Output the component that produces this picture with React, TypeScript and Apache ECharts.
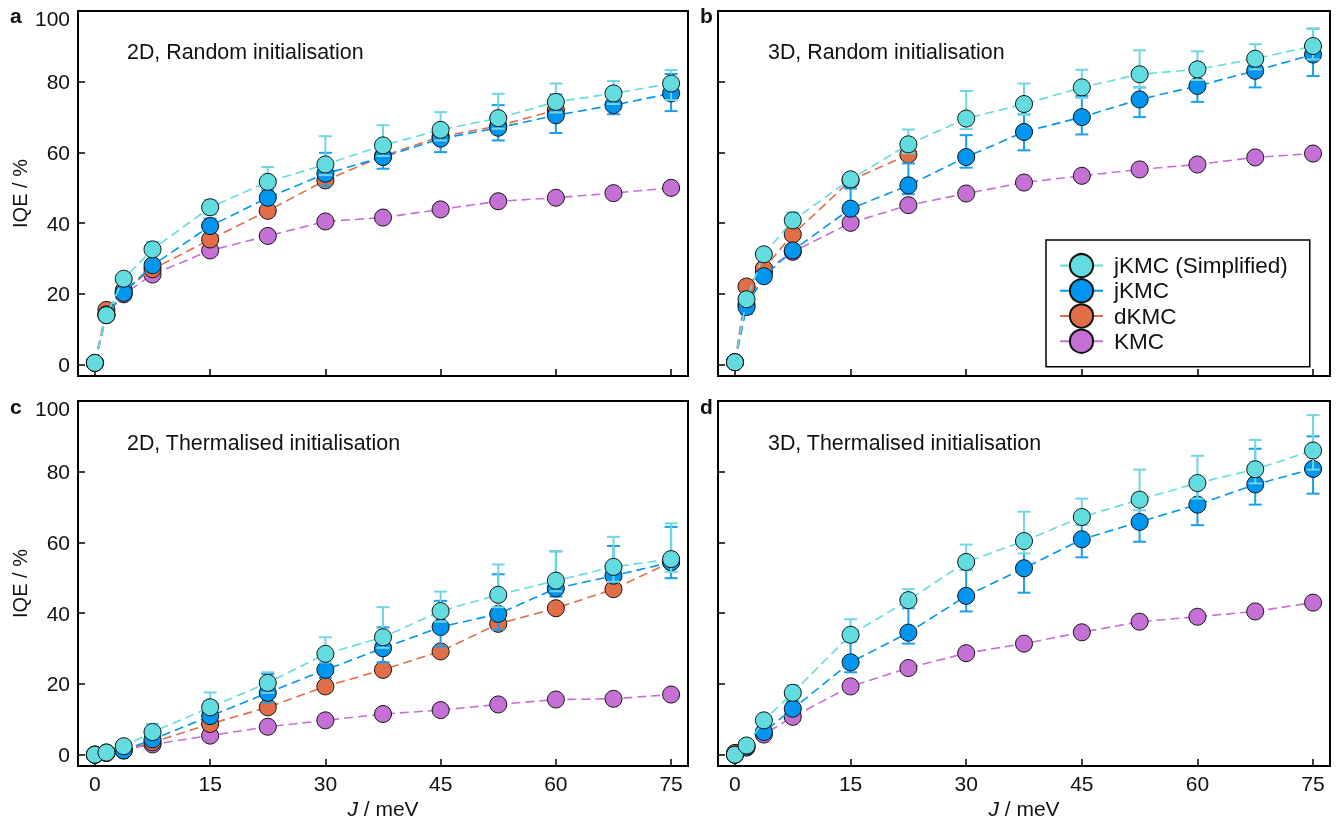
import React, { useEffect, useRef } from 'react';
import * as echarts from 'echarts';

// x values (J / meV)
const J = [0, 1.5, 3.75, 7.5, 15, 22.5, 30, 37.5, 45, 52.5, 60, 67.5, 75];
const xTicks = [0, 15, 30, 45, 60, 75];
const yTicks = [0, 20, 40, 60, 80, 100];
const names = ['jKMC (Simplified)', 'jKMC', 'dKMC', 'KMC'];
const panelTitles = ['2D, Random initialisation', '3D, Random initialisation', '2D, Thermalised initialisation', '3D, Thermalised initialisation'];
const panelLetters = ['a', 'b', 'c', 'd'];

// Panel a: 2D random
const cyanA = [0.5, 14, 24.3, 32.6, 44.5, 51.7, 56.6, 62, 66.4, 69.7, 74.3, 76.7, 79.5];
const cyanUpA = [0.3, 0.5, 1, 2.1, 2, 4.2, 8, 5.7, 5, 6.9, 5.2, 3.5, 3.8];
const cyanDnA = [0.3, 0.5, 1, 1, 2, 2, 3, 3, 3, 3, 3, 3, 4.7];
const blueA = [0.5, 14.2, 20.3, 28.1, 39.2, 47.2, 54, 58.7, 63.9, 67, 70.5, 73.4, 76.7];
const blueUpA = [0.3, 0.5, 1, 1.5, 2.1, 2.1, 5.9, 3.6, 4, 6.4, 5.9, 4.5, 5.5];
const blueDnA = [0.3, 0.5, 1.9, 1.5, 1.5, 2, 3.5, 3.3, 3.8, 3.6, 5, 2.6, 5];
const orangeA = [0.5, 15.5, 21, 27, 35.4, 43.5, 52.1, 59, 64.5, 67.5, 72];
const purpleA = [0.5, 14, 19.9, 25.5, 32.3, 36.4, 40.5, 41.6, 43.9, 46.2, 47.2, 48.5, 50];

// Panel b: 3D random
const cyanB = [0.7, 18.5, 31.2, 40.8, 52.4, 62.3, 69.6, 73.7, 78.4, 82.1, 83.5, 86.5, 90.1];
const cyanUpB = [0.3, 1, 1, 2.2, 1.5, 4.2, 7.8, 5.8, 5, 6.8, 5.1, 4.1, 4.9];
const cyanDnB = [0.3, 1, 1, 1, 1.5, 2.5, 3, 3, 3, 3.7, 3, 3, 3.8];
const blueB = [0.7, 16.3, 25, 32.3, 44.1, 50.7, 58.7, 65.8, 70, 75, 78.8, 83.1, 87.7];
const blueUpB = [0.3, 1, 1, 1, 5.7, 6.2, 6.2, 5, 6, 3.4, 4, 3.5, 7.3];
const blueDnB = [0.3, 1.9, 1, 1, 1.5, 2.5, 3, 5.2, 4.9, 5, 4.5, 4.7, 6.1];
const orangeB = [0.7, 22.1, 27.2, 36.8, 52.1, 59.4];
const purpleB = [0.7, 17, 26.2, 31.9, 40.1, 45.1, 48.4, 51.5, 53.4, 55.2, 56.6, 58.6, 59.7];

// Panel c: 2D thermalised
const cyanC = [0, 0.6, 2.4, 6.4, 13.4, 20.3, 28.5, 33.2, 40.6, 45.2, 49.2, 53.1, 55.3];
const cyanUpC = [0.3, 0.3, 0.8, 2.3, 4.2, 3, 4.7, 8.5, 5.5, 8.6, 8.3, 8.5, 10.1];
const cyanDnC = [0.3, 0.3, 0.5, 1, 1.5, 2.8, 2.4, 3, 3, 3.5, 3, 4.2, 3.6];
const blueC = [0, 0.6, 1.2, 4.3, 10.9, 17.5, 24, 30.1, 36.1, 39.8, 47, 50.6, 54.4];
const blueUpC = [0.3, 0.3, 0.5, 1, 4.2, 5.3, 3, 5.9, 7.4, 11.2, 10.5, 8.4, 10];
const blueDnC = [0.3, 0.3, 0.5, 1, 1.5, 2.7, 2.3, 4, 5.5, 4.5, 2.3, 1.7, 4.5];
const orangeC = [0, 0.5, 1.2, 3.5, 8.7, 13.4, 19.3, 24, 29.2, 37, 41.4, 46.8, 54.5];
const purpleC = [0, 0.5, 1.5, 2.9, 5.4, 7.9, 9.7, 11.5, 12.6, 14.2, 15.6, 15.8, 17];

// Panel d: 3D thermalised
const cyanD = [0, 2.6, 9.7, 17.5, 33.9, 43.7, 54.5, 60.4, 67.2, 72.1, 76.8, 80.7, 86];
const cyanUpD = [0.3, 0.5, 1, 2.1, 4.4, 3.1, 4.9, 8.3, 5.2, 8.5, 7.7, 8.3, 10];
const cyanDnD = [0.3, 0.5, 1, 1, 2, 2, 2.3, 3.5, 2.3, 3, 4.4, 4, 5.4];
const blueD = [0, 2.3, 6.4, 13, 26.1, 34.5, 44.9, 52.7, 60.9, 65.8, 70.7, 76.4, 80.8];
const blueUpD = [0.3, 0.5, 1, 2.1, 6, 6.9, 7.3, 7, 6, 8, 7, 10.1, 9.2];
const blueDnD = [0.3, 0.5, 1, 1, 2.8, 3.1, 4.4, 6.9, 5.1, 5.6, 5.8, 5.7, 7];
const orangeD = [0.5];
const purpleD = [0, 2, 5.7, 10.7, 19.3, 24.5, 28.7, 31.4, 34.6, 37.6, 39, 40.5, 43];

const CYAN = '#62dcdf';
const CYAN_ERR = '#6fd6e2';
const BLUE = '#0096f0';
const BLUE_ERR = '#1a9ef2';
const ORANGE = '#e26e48';
const PURPLE = '#c470d4';
const FONT = '"Liberation Sans", Arial, sans-serif';

const grids = [
  { left: 78, top: 11, width: 610, height: 365 },
  { left: 718, top: 11, width: 612, height: 365 },
  { left: 78, top: 401, width: 610, height: 365 },
  { left: 718, top: 401, width: 612, height: 365 },
];

function lineSeries(i: number, name: string, vals: number[], color: string, z: number) {
  return {
    type: 'line',
    name,
    xAxisIndex: i,
    yAxisIndex: i,
    data: vals.map((v, k) => [J[k], v]),
    symbol: 'circle',
    symbolSize: 17,
    itemStyle: { color, borderColor: '#111', borderWidth: 1 },
    lineStyle: { color, width: 1.6, type: [9, 5] },
    z,
  };
}

function errSeries(i: number, vals: number[], up: number[], dn: number[], color: string, z: number) {
  return {
    type: 'custom',
    name: 'err' + i + color,
    xAxisIndex: i,
    yAxisIndex: i,
    z,
    encode: { x: 0, y: [1, 2] },
    data: vals.map((v, k) => [J[k], v - dn[k], v + up[k]]),
    renderItem: (params: any, api: any) => {
      const x = api.value(0);
      const top = api.coord([x, api.value(2)]);
      const bot = api.coord([x, api.value(1)]);
      const w = 6.5;
      const style = { stroke: color, lineWidth: 2 };
      return {
        type: 'group',
        children: [
          { type: 'line', shape: { x1: top[0], y1: top[1], x2: bot[0], y2: bot[1] }, style },
          { type: 'line', shape: { x1: top[0] - w, y1: top[1], x2: top[0] + w, y2: top[1] }, style },
          { type: 'line', shape: { x1: bot[0] - w, y1: bot[1], x2: bot[0] + w, y2: bot[1] }, style },
        ],
      };
    },
  };
}

const panels = [
  [cyanA, cyanUpA, cyanDnA, blueA, blueUpA, blueDnA, orangeA, purpleA],
  [cyanB, cyanUpB, cyanDnB, blueB, blueUpB, blueDnB, orangeB, purpleB],
  [cyanC, cyanUpC, cyanDnC, blueC, blueUpC, blueDnC, orangeC, purpleC],
  [cyanD, cyanUpD, cyanDnD, blueD, blueUpD, blueDnD, orangeD, purpleD],
];

export default function App() {
  const ref = useRef<HTMLDivElement>(null);
  useEffect(() => {
    if (!ref.current) return;
    const chart = echarts.init(ref.current, undefined, { renderer: 'svg' });
    const series: any[] = [];
    panels.forEach((p, i) => {
      const [c, cu, cd, b, bu, bd, o, pu] = p;
      series.push(lineSeries(i, names[3], pu, PURPLE, 2));
      series.push(lineSeries(i, names[2], o, ORANGE, 3));
      series.push(errSeries(i, b, bu, bd, BLUE_ERR, 4));
      series.push(lineSeries(i, names[1], b, BLUE, 5));
      series.push(errSeries(i, c, cu, cd, CYAN_ERR, 6));
      series.push(lineSeries(i, names[0], c, CYAN, 7));
    });
    const xAxis = grids.map((g, i) => ({
      type: 'value',
      gridIndex: i,
      min: -2.2,
      max: 77.2,
      splitLine: { show: false },
      axisLine: { show: false, onZero: false },
      axisTick: { show: true, inside: true, length: 7, customValues: xTicks, lineStyle: { color: '#000', width: 1.5 } },
      axisLabel: { show: i >= 2, customValues: xTicks, margin: 7, fontSize: 21, color: '#111', fontFamily: FONT },
      name: i >= 2 ? '{i|J} / meV' : '',
      nameLocation: 'middle',
      nameGap: 32,
      nameTextStyle: { fontSize: 21, color: '#111', fontFamily: FONT, rich: { i: { fontStyle: 'italic', fontSize: 21, color: '#111', fontFamily: FONT } } },
    }));
    const yAxis = grids.map((g, i) => ({
      type: 'value',
      gridIndex: i,
      min: -3.2,
      max: 100,
      splitLine: { show: false },
      axisLine: { show: false, onZero: false },
      axisTick: { show: true, inside: true, length: 7, customValues: yTicks, lineStyle: { color: '#000', width: 1.5 } },
      axisLabel: {
        show: i % 2 === 0,
        customValues: yTicks,
        margin: 8,
        fontSize: 21,
        color: '#111',
        fontFamily: FONT,
        formatter: (v: number) => (v === 100 ? '{t|100}' : String(v)),
        rich: { t: { padding: [14, 0, 0, 0], fontSize: 21, color: '#111', fontFamily: FONT } },
      },
      name: i % 2 === 0 ? 'IQE / %' : '',
      nameLocation: 'middle',
      nameGap: 48,
      nameTextStyle: { fontSize: 20, color: '#111', fontFamily: FONT },
    }));
    const titleTops = [41, 41, 432, 432];
    const titleLefts = [127, 768, 127, 768];
    const letterPos = [
      [10, 15],
      [700, 15],
      [10, 406],
      [700, 406],
    ];
    chart.setOption({
      animation: false,
      grid: grids.map((g) => ({ ...g, show: true, borderColor: '#000', borderWidth: 2, backgroundColor: 'transparent' })),
      xAxis,
      yAxis,
      title: panelTitles.map((t, i) => ({
        text: t,
        left: titleLefts[i],
        top: titleTops[i],
        padding: 0,
        textStyle: { fontSize: 21.4, fontWeight: 'normal', color: '#111', fontFamily: FONT },
      })),
      graphic: panelLetters.map((l, i) => ({
        type: 'text',
        x: letterPos[i][0],
        y: letterPos[i][1],
        style: { text: l, font: 'bold 21px ' + FONT, fill: '#111', verticalAlign: 'middle' },
      })),
      legend: {
        data: names,
        orient: 'vertical',
        left: 1046,
        top: 240,
        padding: [13, 22, 13, 13],
        borderColor: '#000',
        borderWidth: 1.5,
        itemWidth: 43,
        itemHeight: 29,
        itemGap: 0,
        selectedMode: false,
        lineStyle: { type: 'solid', width: 2 },
        textStyle: { fontSize: 22.5, color: '#111', fontFamily: FONT, padding: [0, 0, 0, 6] },
      },
      series,
    });
    return () => chart.dispose();
  }, []);
  return <div ref={ref} style={{ position: 'fixed', left: 0, top: 0, width: 1341, height: 823 }} />;
}
